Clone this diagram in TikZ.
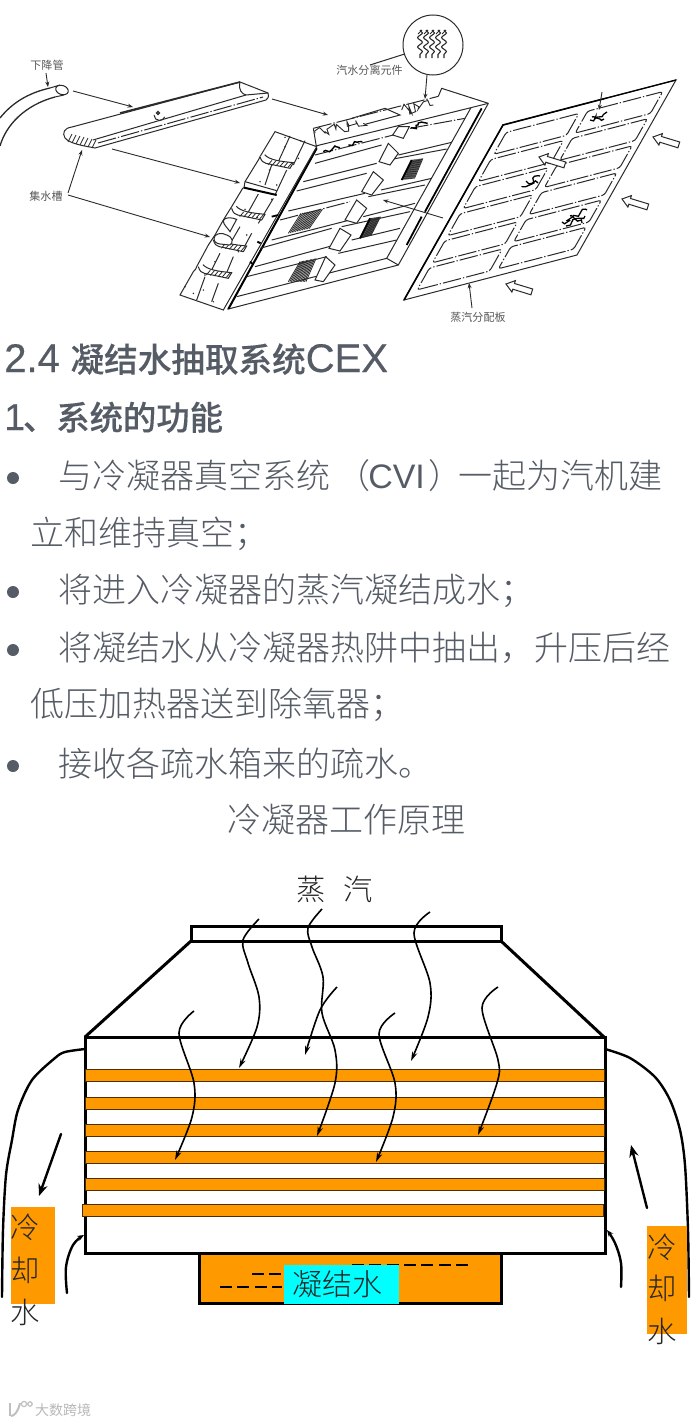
\documentclass[tikz,border=0pt]{standalone}
\usepackage{fontspec}
\usetikzlibrary{arrows.meta,decorations.pathmorphing}
\newfontfamily\cjk{Noto Sans CJK SC}
\newfontfamily\cjkl{Noto Sans CJK SC Light}
\newfontfamily\cjkm{Noto Sans CJK SC Medium}[FakeBold=0.2]
\newfontfamily\lat{Liberation Sans}
\newfontfamily\latb{Liberation Sans}[FakeBold=0.4]
\definecolor{bodygray}{HTML}{555C66}
\definecolor{cfgorange}{HTML}{FF9900}
\definecolor{cfgcyan}{HTML}{00FFFF}
\definecolor{ink}{HTML}{2A2A2A}
\tikzset{
  px/.style={line width=#1*0.75pt},
  body/.style={inner sep=0pt,anchor=base west,text=bodygray,font=\cjkl\fontsize{25.5pt}{30pt}\selectfont},
  head/.style={inner sep=0pt,anchor=base west,text=bodygray,font=\cjkm\fontsize{25.2pt}{30pt}\selectfont},
  scan/.style={inner sep=0pt,anchor=center,text=black!65,font=\cjk\fontsize{8.3pt}{10pt}\selectfont},
  big/.style={inner sep=0pt,anchor=center,text=black!85,font=\cjkl\fontsize{22pt}{26pt}\selectfont},
  sketch/.style={draw=ink,px=1},
  dd/.style={draw=ink,px=1,dash pattern=on 14pt off 1.5pt on 1pt off 1.5pt},
  farrow/.style={draw=ink,px=.9,-{Stealth[length=4pt,width=3pt]}},
  steam/.style={draw=black,px=1.6,-{Stealth[length=7pt,width=4pt]}},
  tube/.style={fill=cfgorange,draw=black!70!cfgorange,px=.8},
  wall/.style={draw=black,px=3},
  curvy/.style={draw=black,px=2.4,line cap=round},
  bul/.style={fill=bodygray,draw=none},
  hatch/.style={draw=ink,px=.8},
  scrib/.style={draw=ink,px=.9,decorate,decoration={random steps,amplitude=#1,segment length=2pt}},
}
\newcommand\hollow[2]{\draw[sketch,fill=white,shift={(#1,#2)}] (0,0)--(9.4,-3.4)--(8.5,-.5)--(26.7,5)--(24.9,10.8)--(6.8,5.2)--(5.9,8.1)--cycle;}
\newcommand\hatchbox[8]{%
  \foreach \t in {0,.08,...,1.01}{\draw[hatch] ({#1+(#3-#1)*\t},{#2+(#4-#2)*\t})--({#5+(#7-#5)*\t},{#6+(#8-#6)*\t});}}
\pgfmathsetseed{7}
\begin{document}
\begin{tikzpicture}[x=0.75pt,y=-0.75pt]
\useasboundingbox (0,0) rectangle (690,1424);
\fill[white] (0,0) rectangle (690,1424);

%% ---------- downcomer and trough
\draw[sketch,px=1.3] (0,118) .. controls (12,103) and (28,93) .. (50,88);
\draw[sketch,px=1.3] (0,146) .. controls (6,125) and (25,105) .. (55,97);
\draw[sketch] (50,88)--(60,85) (55,97)--(64,95);
\draw[sketch,fill=white,rotate around={-18:(62,90)}] (62,90) ellipse (6.5 and 4.5);
\draw[sketch,fill=white] (72,127)--(240,82)--(268,93) .. controls (269,97) and (268,99) .. (266,100)--(95,148) .. controls (85,146) and (70,144) .. (65,138) .. controls (62,133) and (64,128) .. (72,127)--cycle;
\draw[sketch] (240,82) .. controls (238,90) and (242,94) .. (246,95);
\draw[sketch] (246,95)--(268,93);
\draw[sketch] (93,140)--(246,95);
\draw[dd] (98,143)--(263,97);
\foreach \x in {68,72,...,92}{\draw[hatch] (\x,{134+(\x-68)*.25+8})--({\x+4},{134+(\x-68)*.25});}
\draw[sketch] (154,115) arc (180:20:5.5);
\draw[sketch,line width=.9pt] (158,113) circle (1.5);
\draw[sketch,px=1.6] (120,113)--(240,82);

\draw[farrow] (73,91)--(133,107);
\draw[farrow] (272,99)--(328,115);
\draw[farrow] (112,149)--(240,183);
\draw[farrow] (68,193)--(82,150);
\draw[farrow] (68,195)--(210,237);
\draw[farrow] (46,73)--(48,87);

%% ---------- frame (coordinates of a 3x crop at 225,85)
\begin{scope}[shift={(225,85)},x=.25pt,y=-.25pt]
\fill[white] (265,130)--(650,30)--(650,10)--(760,35)--(790,55)--(520,540)--(10,672)--(275,190)--cycle;
\draw[sketch] (790,55)--(520,540)--(10,672)--(275,190)--(265,130);
\draw[dd] (265,130)--(640,34);
\draw[sketch] (640,34)--(650,10)--(790,55);
\draw[sketch] (380,100)--(480,70)--(525,90)--(420,118);
\draw[sketch] (272,183)--(738,68)--(485,520)--(35,635) (485,520)--(520,540) (738,68)--(790,55);
\draw[draw=black,px=2] (275,190)--(10,672);
\draw[draw=black,px=1.8] (770,70)--(600,380) (590,395)--(545,480);
%% slats
\foreach \a/\b/\c/\d in {
  270/235/470/180, 520/210/680/172,
  235/290/455/235, 505/222/665/192,
  215/318/425/265, 468/315/620/280,
  190/378/420/325, 430/335/600/300,
  140/465/375/405, 415/395/570/355,
  105/490/320/430, 350/425/555/380,
  90/545/330/480, 380/465/525/430,
  65/575/305/515, 340/505/515/465}{
  \draw[sketch] (\a,\b)--(\c,\d);
}
\draw[dd] (270,210)--(505,150);
\draw[dd] (555,130)--(720,100);
\draw[dd] (165,405)--(375,350);
%% blocks
\foreach \a/\b/\c/\d/\e/\f/\g/\h in {
  503/150/520/125/553/125/535/160,
  462/230/490/175/520/205/495/240,
  410/320/445/260/475/285/440/330,
  360/405/395/345/425/370/395/415,
  312/490/345/430/378/450/345/498,
  270/585/302/515/330/540/295/590}{
  \draw[sketch,fill=white] (\a,\b)--(\c,\d)--(\e,\f)--(\g,\h)--cycle;
}
%% hatched panels
\hatchbox{228}{385}{295}{372}{190}{445}{255}{430}
\hatchbox{435}{400}{468}{395}{405}{460}{440}{450}
\hatchbox{560}{225}{595}{220}{530}{285}{570}{280}
\hatchbox{225}{530}{275}{520}{190}{590}{245}{590}
\draw[draw=black,px=1.8] (405,460)--(435,400) (530,285)--(560,225);
\draw[scrib=2.5pt,draw=black,px=1.4] (295,200)--(345,188);
\draw[scrib=2.5pt,draw=black,px=1.4] (370,180)--(412,170);
\draw[scrib=2.5pt,draw=black,px=1.4] (558,128)--(608,115);
\draw[scrib=4pt] (270,145)--(415,115);
\draw[scrib=4pt] (530,75)--(625,60);
\end{scope}

%% ---------- left column of panels (coordinates of a 3x crop at 170,120)
\begin{scope}[shift={(170,120)},x=.25pt,y=-.25pt]
\draw[sketch,fill=white] (270,110)--(315,35)--(440,80)--(160,570)--(30,525)--(70,455) .. controls (75,450) and (80,445) .. (80,440)--(115,375)--(135,345)--(160,300)--(185,260)--(218,205)--(222,203)--(225,185)--(265,120)--cycle;
\draw[sketch] (360,48)--(325,125) (305,135)--(285,195) (265,222)--(230,285) (210,320)--(175,380) (150,400)--(125,450) (105,470)--(80,540);
\draw[sketch] (405,62)--(370,135) (350,150)--(315,225) (310,235)--(265,310) (245,340)--(215,395) (190,410)--(165,470) (145,490)--(125,545);
\draw[draw=black,px=2] (222,203)--(320,225);
\draw[sketch] (225,185)--(320,212);
%% trough ends
\foreach \x/\y in {270/110,185/265,130/360,85/440}{
  \draw[sketch,fill=white] (\x,\y) .. controls (\x+4,\y+14) and (\x+10,\y+18) .. (\x+18,\y+20)--(\x+90,\y+35)--(\x+100,\y+18) .. controls (\x+60,\y+14) and (\x+28,\y+10) .. (\x+14,\y-6);
  \foreach \k in {24,36,...,84}{\draw[hatch] (\x+\k,{\y+22+\k*.12})--(\x+\k+12,{\y+8+\k*.12});}
}
\draw[sketch,fill=white] (132,355) .. controls (132,342) and (155,335) .. (170,345) .. controls (190,352) and (190,368) .. (180,375)--(150,372) .. controls (138,370) and (132,365) .. (132,355)--cycle;
\draw[sketch,fill=white] (160,302) .. controls (165,290) and (185,292) .. (200,298)--(180,335) .. controls (172,322) and (160,315) .. (160,302)--cycle;
\draw[draw=black,px=1.8] (262,365)--(272,370) (240,425)--(248,432) (305,290)--(325,285);
\foreach \x/\y in {345/52,392/62,345/80,385/115,270/185,298/150,320/195,225/268,305/238,262/292,230/345,205/395,135/425,100/510,130/545,70/520,45/500,105/465}{\fill[ink] (\x,\y) circle (2.5);}
\end{scope}

\draw[farrow] (443,218)--(383,200);

%% ---------- separator detail
\node[draw=ink,px=1,circle,minimum size=60*.75pt,inner sep=0pt,fill=white] (detail) at (433,45) {};
\foreach \x in {420,426,432,438,444}{
  \draw[draw=ink,px=1.1,decorate,decoration={snake,amplitude=1.8pt,segment length=7pt}] (\x,30)--(\x,58);
  \draw[ink,px=.8] (\x-2,34)--(\x+2,30);
}
\coordinate (sepLabel) at (370,65);
\draw[sketch] (detail)--(sepLabel);
\coordinate (sepFoot) at (425,99);
\draw[farrow] (427,75)--(sepFoot);

%% ---------- distribution plate
\begin{scope}[shift={(404,300)},x={(129.75pt,33.75pt)},y={(74.25pt,131.25pt)}]
\draw[sketch,fill=white] (0,0)--(1,0)--(1,1)--(0,1)--cycle;
\draw[draw=black,px=1.6] (0,0)--(0,1)--(.6,1);
\draw[draw=black,px=1.3] (.6,1)--(1,1);
\foreach \i in {0,...,5}{
  \pgfmathsetmacro\va{.045+\i*.155}
  \pgfmathsetmacro\vb{\va+.125}
  \draw[dd,rounded corners=2pt] (.05,\va)--(.47,\va)--(.47,\vb)--(.05,\vb)--cycle;
  \draw[dd,rounded corners=2pt] (.52,\va)--(.955,\va)--(.955,\vb)--(.52,\vb)--cycle;
}
\end{scope}
\foreach \ax/\ay/\bx/\by in {590/120/607/112,592/117/604/119,522/187/540/176,526/181/538/183,562/222/587/210,566/226/585/216,570/216/582/223}{
  \draw[draw=black,px=1.3,decorate,decoration={random steps,amplitude=2.2pt,segment length=2pt}] (\ax,\ay)--(\bx,\by);
}
\hollow{653}{137}
\hollow{622}{199}
\hollow{506}{284}
\hollow{539}{157}
\draw[farrow] (602,92)--(599,110);
\draw[farrow] (472,308)--(469,283);

%% ---------- upper labels
\node[scan] (lblDown) at (47,65) {下降管};
\node[scan] (lblSep) at (369.5,70) {汽水分离元件};
\node[scan] (lblTrough) at (46,196) {集水槽};
\node[scan] (lblPlate) at (478,317) {蒸汽分配板};

%% ---------- text block
\node[head] (title) at (4,372) {\latb\fontsize{30pt}{30pt}\selectfont 2.4\kern 8pt\cjkm\fontsize{25.2pt}{30pt}\selectfont 凝结水抽取系统\latb\fontsize{30pt}{30pt}\selectfont CEX};
\node[head] (sub) at (4,430) {\latb\fontsize{28pt}{30pt}\selectfont 1\kern-1.5pt\cjkm\fontsize{25pt}{30pt}\selectfont 、系统的功能};
\fill[bul] (13,478) circle (6);
\fill[bul] (13,592) circle (6);
\fill[bul] (13,650) circle (6);
\fill[bul] (13,766) circle (6);
\node[body] (l1) at (58,488) {与冷凝器真空系统\kern 5pt（\kern -2pt\lat CVI\kern 3pt\cjkl{}）\kern-3pt 一起为汽机建};
\node[body] (l2) at (30,545) {立和维持真空；};
\node[body] (l3) at (58,602) {将进入冷凝器的蒸汽凝结成水；};
\node[body] (l4) at (58,660) {将凝结水从冷凝器热阱中抽出，升压后经};
\node[body] (l5) at (30,716) {低压加热器送到除氧器；};
\node[body] (l6) at (58,776) {接收各疏水箱来的疏水。};
\node[body,anchor=base] (cap) at (346,832) {冷凝器工作原理};

%% ---------- condenser
\node[big] (st1) at (311,889) {蒸};
\node[big] (st2) at (358,889) {汽};
\draw[wall] (191,926) rectangle (501,941);
\draw[wall] (191,941)--(85,1037);
\draw[wall] (501,941)--(604,1037);
\fill[cfgorange] (199,1253) rectangle (501,1303);
\draw[wall] (199,1253)--(199,1303)--(501,1303)--(501,1253);
\draw[wall] (85,1037) rectangle (605,1253);
\draw[tube] (85,1069.5) rectangle (604,1081);
\draw[tube] (85,1097.5) rectangle (604,1109);
\draw[tube] (85,1124.5) rectangle (604,1136);
\draw[tube] (85,1151.5) rectangle (604,1163);
\draw[tube] (85,1178.5) rectangle (604,1190.5);
\draw[tube] (82.5,1204) rectangle (603.5,1216.5);

\draw[draw=black,px=2,dash pattern=on 9pt off 4pt] (352,1265)--(471,1265);
\draw[draw=black,px=2,dash pattern=on 9pt off 4pt] (252,1274)--(282,1274);
\draw[draw=black,px=2,dash pattern=on 9pt off 4pt] (220,1287)--(282,1287);
\node[fill=cfgcyan,minimum width=115.5*.75pt,minimum height=39*.75pt,inner sep=0pt,text=black!85,font=\cjkl\fontsize{22.5pt}{26pt}\selectfont] (cond) at (341.7,1284.5) {\kern-6pt 凝结水};

%% steam paths
\draw[steam] plot[smooth,tension=.55] coordinates {(259,919)(243,940)(248,963)(259,997)(257,1027)(239,1068)};
\draw[steam] plot[smooth,tension=.55] coordinates {(322,909)(308,928)(312,947)(323,977)(322,1013)(335,1050)(335,1083)(317,1136)};
\draw[steam] plot[smooth,tension=.55] coordinates {(337,987)(320,1010)(305,1055)};
\draw[steam] plot[smooth,tension=.55] coordinates {(194,1011)(179,1033)(194,1083)(192,1117)(175,1160)};
\draw[steam] plot[smooth,tension=.55] coordinates {(430,912)(414,933)(430,983)(428,1017)(411,1061)};
\draw[steam] plot[smooth,tension=.55] coordinates {(395,1013)(379,1034)(395,1083)(393,1117)(376,1162)};
\draw[steam] plot[smooth,tension=.55] coordinates {(498,987)(482,1008)(498,1060)(497,1083)(478,1135)};

%% cooling water
\draw[curvy] plot[smooth,tension=.5] coordinates {(85,1049)(65,1052)(55,1058)(32,1080)(18,1110)(12,1140)(6,1175)(3,1230)(2,1297)};
\draw[curvy] plot[smooth,tension=.5] coordinates {(605,1049)(630,1058)(655,1077)(670,1100)(680,1130)(685,1165)(688,1230)(689,1297)};
\draw[curvy,-{Stealth[length=9pt,width=7pt]}] (61,1134)--(39,1196);
\draw[curvy,-{Stealth[length=9pt,width=7pt]}] (647,1208)--(631,1145);
\draw[curvy,-{Stealth[length=5pt,width=4pt]}] plot[smooth,tension=.6] coordinates {(67,1293)(66,1267)(73,1245)(84,1235)};
\draw[curvy,-{Stealth[length=5pt,width=4pt]}] plot[smooth,tension=.6] coordinates {(621,1287)(621,1263)(615,1243)(607,1230)};

\fill[cfgorange] (11,1207) rectangle (55,1304);
\fill[cfgorange] (647,1226) rectangle (687,1334);
\node[big] (cl1) at (25,1227) {冷};
\node[big] (cl2) at (25,1270) {却};
\node[big] (cl3) at (25,1312) {水};
\node[big] (cr1) at (662,1247) {冷};
\node[big] (cr2) at (662,1288) {却};
\node[big] (cr3) at (662,1331) {水};

%% ---------- watermark
\draw[black!25,px=2] (10,1403)--(10,1416);
\draw[black!25,px=2] (20,1403) .. controls (18,1412) and (14,1416) .. (11,1416);
\draw[black!25,px=1.2] (24,1404) circle (2.6) (30,1404) circle (2.2);
\node[inner sep=0pt,anchor=center,text=black!28,font=\cjk\fontsize{10.5pt}{12pt}\selectfont] (mark) at (63,1410) {大数跨境};
\end{tikzpicture}
\end{document}
